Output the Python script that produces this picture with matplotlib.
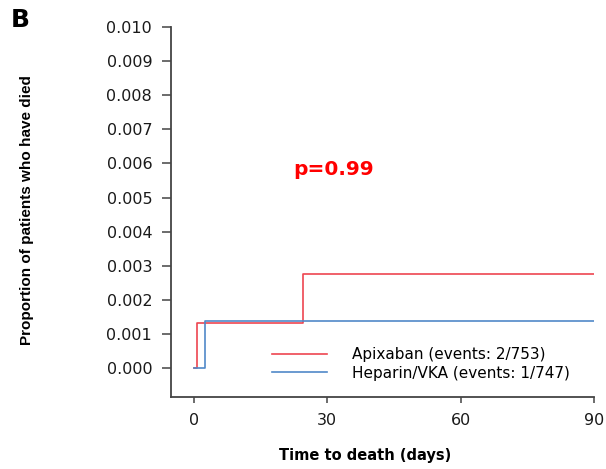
import matplotlib
matplotlib.use("Agg")
import matplotlib.pyplot as plt

# Data (step functions)
apix_t = [0, 0.6, 24.5, 90]
apix_y = [0.0, 0.00133, 0.00277, 0.00277]
hep_t = [0, 2.5, 90]
hep_y = [0.0, 0.00138, 0.00138]

xticks = [0, 30, 60, 90]
yticks = [i / 1000 for i in range(11)]
ytick_labels = ["%.3f" % v for v in yticks]

labels = ["Apixaban (events: 2/753)", "Heparin/VKA (events: 1/747)"]
red = "#EE4650"
blue = "#5089C8"

plt.rcParams["font.family"] = ["DejaVu Sans"]

fig = plt.figure(figsize=(6.06, 4.69), dpi=100)
ax = fig.add_axes([171/606, 1-397/469, (594-171)/606, (397-27)/469])

ax.step(apix_t, apix_y, where="post", color=red, lw=1.2, label=labels[0])
ax.step(hep_t, hep_y, where="post", color=blue, lw=1.2, label=labels[1])

ax.set_xlim(-5.175, 90)
ax.set_ylim(-0.00085, 0.010)
ax.set_xticks(xticks)
ax.set_xticklabels([str(v) for v in xticks])
ax.set_yticks(yticks)
ax.set_yticklabels(ytick_labels)

for s in ["top", "right"]:
    ax.spines[s].set_visible(False)
for s in ["left", "bottom"]:
    ax.spines[s].set_color("#444444")
    ax.spines[s].set_linewidth(1.3)

ax.tick_params(axis="y", length=6.5, width=1.1, color="#444444", pad=7, labelsize=11.5, labelcolor="#1a1a1a")
ax.tick_params(axis="x", length=4.3, width=1.1, color="#444444", pad=7, labelsize=11.5, labelcolor="#1a1a1a")

ax.set_ylabel("Proportion of patients who have died", fontsize=11, fontweight="bold",
              family="Liberation Sans")
ax.yaxis.set_label_coords(-0.324, 0.505)
ax.set_xlabel("Time to death (days)", fontsize=10.5, fontweight="bold")
ax.xaxis.set_label_coords(0.459, -0.138)

ax.text(0.385, 0.614, "p=0.99", transform=ax.transAxes, color="red", fontsize=14.5,
        fontweight="bold", ha="center", va="center")

leg = ax.legend(loc="center left", bbox_to_anchor=((266-171)/423, (397-364)/370),
                frameon=False, fontsize=11, handlelength=3.6, handletextpad=1.6,
                labelspacing=0.22, borderaxespad=0)

fig.text(11/606, 1-20/469, "B", fontsize=18, fontweight="bold", ha="left", va="center")

fig.savefig("out.png", dpi=100)
